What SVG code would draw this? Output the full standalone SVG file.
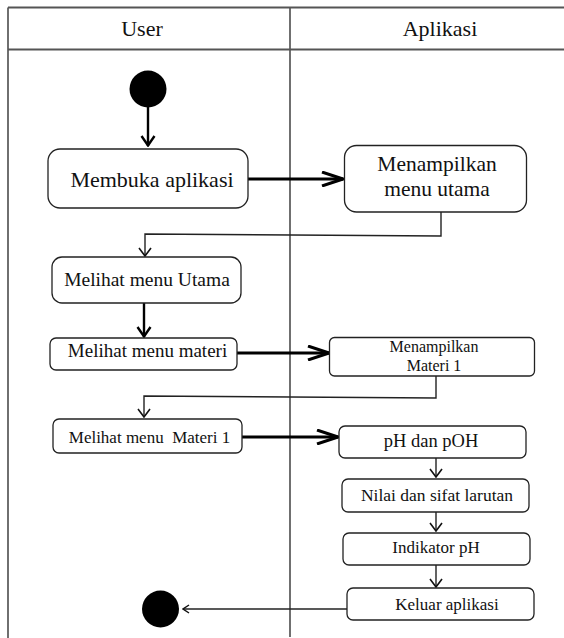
<svg xmlns="http://www.w3.org/2000/svg" width="564" height="638" viewBox="0 0 564 638">
  <style>
    .lane { fill: none; stroke: #333; stroke-width: 1.4; }
    .head { fill: none; stroke: #555; stroke-width: 1.8; }
    .box { fill: #fff; stroke: #222; stroke-width: 1.3; }
    .t { font-family: "Liberation Serif", "Times New Roman", serif; fill: #111; text-anchor: middle; white-space: pre; }
    .flow-lg { fill: none; stroke: #000; stroke-width: 3; }
    .flow-md { fill: none; stroke: #000; stroke-width: 2.4; }
    .flow-sm { fill: none; stroke: #222; stroke-width: 1.4; }
  </style>
  <defs>
    <marker id="open-lg" markerUnits="userSpaceOnUse" viewBox="0 0 24 16" refX="22" refY="8" markerWidth="24" markerHeight="16" orient="auto">
      <path d="M1,1 L22,8 L1,15" fill="none" stroke="#000" stroke-width="3"/>
    </marker>
    <marker id="open-md" markerUnits="userSpaceOnUse" viewBox="0 0 12 16" refX="11" refY="8" markerWidth="12" markerHeight="16" orient="auto">
      <path d="M1,1.5 L10.5,8 L1,14.5" fill="none" stroke="#000" stroke-width="2.4"/>
    </marker>
    <marker id="open-sm" markerUnits="userSpaceOnUse" viewBox="0 0 10 14" refX="9" refY="7" markerWidth="10" markerHeight="14" orient="auto">
      <path d="M1,1 L9,7 L1,13" fill="none" stroke="#111" stroke-width="1.6"/>
    </marker>
    <marker id="open-xs" markerUnits="userSpaceOnUse" viewBox="0 0 8 10" refX="7" refY="5" markerWidth="8" markerHeight="10" orient="auto">
      <path d="M1,1 L7,5 L1,9" fill="none" stroke="#111" stroke-width="1.5"/>
    </marker>
  </defs>

  <!-- swimlane frame -->
  <g id="lanes">
    <line class="lane" x1="8" y1="7.5" x2="8" y2="638"/>
    <line class="lane" x1="290" y1="7.5" x2="290" y2="637"/>
    <line class="head" x1="8" y1="7.5" x2="564" y2="7.5"/>
    <line class="head" x1="8" y1="49.5" x2="564" y2="49.5"/>
    <text class="t" x="142" y="36" font-size="22">User</text>
    <text class="t" x="440" y="36" font-size="22">Aplikasi</text>
  </g>

  <!-- connectors -->
  <g id="connectors">
    <line class="flow-md" x1="148" y1="107" x2="148" y2="146" marker-end="url(#open-md)"/>
    <line class="flow-lg" x1="248" y1="179" x2="343" y2="179" marker-end="url(#open-lg)"/>
    <polyline class="flow-sm" points="441,212 441,236 145,234 145,256" marker-end="url(#open-sm)"/>
    <line class="flow-md" x1="144" y1="303" x2="144" y2="337" marker-end="url(#open-md)"/>
    <line class="flow-lg" x1="237" y1="353" x2="329" y2="353" marker-end="url(#open-lg)"/>
    <polyline class="flow-sm" points="436,376 436,398 144,396 144,417" marker-end="url(#open-sm)"/>
    <line class="flow-lg" x1="242" y1="437" x2="338" y2="437" marker-end="url(#open-lg)"/>
    <line class="flow-sm" x1="436" y1="458" x2="436" y2="477" marker-end="url(#open-sm)"/>
    <line class="flow-sm" x1="436" y1="512" x2="436" y2="531" marker-end="url(#open-sm)"/>
    <line class="flow-sm" x1="436" y1="565" x2="436" y2="587" marker-end="url(#open-sm)"/>
    <line class="flow-sm" x1="347" y1="609" x2="183" y2="609" marker-end="url(#open-xs)"/>
  </g>

  <g id="start">
    <circle cx="148" cy="89" r="18.5" fill="#000"/>
  </g>

  <g id="membuka-aplikasi">
    <rect class="box" x="48" y="149" width="200" height="59" rx="12"/>
    <text class="t" x="152" y="187" font-size="22">Membuka aplikasi</text>
  </g>

  <g id="menampilkan-menu-utama">
    <rect class="box" x="344.5" y="145.5" width="182" height="66.5" rx="12"/>
    <text class="t" x="437" y="171" font-size="21.5">Menampilkan</text>
    <text class="t" x="437" y="196" font-size="21.5">menu utama</text>
  </g>

  <g id="melihat-menu-utama">
    <rect class="box" x="52" y="257" width="189" height="46" rx="10"/>
    <text class="t" x="147" y="286" font-size="19.5">Melihat menu Utama</text>
  </g>

  <g id="melihat-menu-materi">
    <rect class="box" x="50" y="338" width="187" height="32" rx="6"/>
    <text class="t" x="147.5" y="357" font-size="19">Melihat menu materi</text>
  </g>

  <g id="menampilkan-materi-1">
    <rect class="box" x="329.5" y="337.5" width="205" height="38.5" rx="5"/>
    <text class="t" x="434" y="352" font-size="16">Menampilkan</text>
    <text class="t" x="434" y="370.5" font-size="16">Materi 1</text>
  </g>

  <g id="melihat-menu-materi-1">
    <rect class="box" x="53" y="419" width="189" height="34" rx="6"/>
    <text class="t" x="149.5" y="443" font-size="17">Melihat menu  Materi 1</text>
  </g>

  <g id="ph-dan-poh">
    <rect class="box" x="339" y="426" width="187" height="32" rx="6"/>
    <text class="t" x="431" y="447" font-size="18.5">pH dan pOH</text>
  </g>

  <g id="nilai-dan-sifat-larutan">
    <rect class="box" x="342" y="479" width="187" height="33" rx="6"/>
    <text class="t" x="437" y="501" font-size="17.5">Nilai dan sifat larutan</text>
  </g>

  <g id="indikator-ph">
    <rect class="box" x="343" y="533" width="187" height="32" rx="6"/>
    <text class="t" x="436" y="553" font-size="17">Indikator pH</text>
  </g>

  <g id="keluar-aplikasi">
    <rect class="box" x="347" y="588" width="187" height="32" rx="6"/>
    <text class="t" x="447" y="610" font-size="17">Keluar aplikasi</text>
  </g>

  <g id="end">
    <circle cx="160.5" cy="609" r="18.5" fill="#000"/>
  </g>
</svg>
